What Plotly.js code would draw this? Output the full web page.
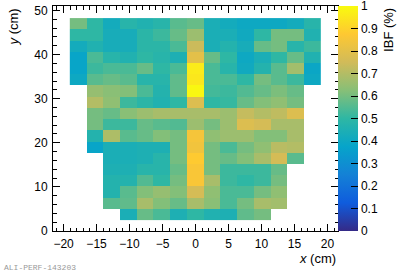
<!DOCTYPE html>
<html>
<head>
<meta charset="utf-8">
<script src="https://cdn.plot.ly/plotly-3.0.1.min.js"></script>
<style>html,body{margin:0;padding:0;background:#fff;}#chart{width:403px;height:274px;}</style>
</head>
<body>
<div id="chart"></div>
<script>
// Pad centres (cm): columns left to right
var xCenters = [-17.78, -15.24, -12.70, -10.16, -7.62, -5.08, -2.54, 0, 2.54, 5.08, 7.62, 10.16, 12.70, 15.24, 17.78];
// Row centres (cm): top to bottom
var yCenters = [46.99, 44.45, 41.91, 39.37, 36.83, 34.29, 31.75, 29.21, 26.67, 24.13, 21.59, 19.05, 16.51, 13.97, 11.43, 8.89, 6.35, 3.81];
// IBF (%) per pad, rows top to bottom (null = no pad)
var ibfRows = [
  [0.60, 0.50, 0.42, 0.48, 0.46, 0.48, 0.56, 0.58, 0.44, 0.42, 0.40, 0.40, 0.40, 0.42, 0.48],
  [0.50, 0.50, 0.43, 0.43, 0.49, 0.52, 0.58, 0.66, 0.44, 0.44, 0.41, 0.50, 0.60, 0.60, 0.46],
  [0.42, 0.46, 0.43, 0.43, 0.49, 0.49, 0.54, 0.74, 0.44, 0.47, 0.43, 0.58, 0.60, 0.48, 0.52],
  [0.38, 0.54, 0.48, 0.46, 0.50, 0.48, 0.45, 0.80, 0.58, 0.50, 0.40, 0.44, 0.50, 0.58, 0.46],
  [0.38, 0.52, 0.54, 0.54, 0.58, 0.50, 0.54, 0.96, 0.54, 0.48, 0.41, 0.47, 0.56, 0.67, 0.39],
  [0.40, 0.56, 0.58, 0.56, 0.48, 0.48, 0.57, 0.95, 0.54, 0.54, 0.50, 0.60, 0.56, 0.52, 0.40],
  [null, 0.65, 0.63, 0.62, 0.54, 0.47, 0.57, 0.99, 0.53, 0.52, 0.55, 0.58, 0.61, 0.58, null],
  [null, 0.70, 0.64, 0.52, 0.49, 0.46, 0.50, 0.78, 0.50, 0.51, 0.58, 0.62, 0.64, 0.60, null],
  [null, 0.60, 0.58, 0.63, 0.66, 0.68, 0.68, 0.68, 0.68, 0.66, 0.73, 0.70, 0.72, 0.78, null],
  [null, 0.60, 0.52, 0.52, 0.58, 0.56, 0.55, 0.66, 0.60, 0.66, 0.78, 0.76, 0.68, 0.68, null],
  [null, 0.47, 0.69, 0.56, 0.58, 0.62, 0.60, 0.85, 0.64, 0.66, 0.66, 0.62, 0.62, 0.68, null],
  [null, 0.38, 0.44, 0.44, 0.45, 0.45, 0.60, 0.84, 0.60, 0.54, 0.60, 0.64, 0.71, 0.70, null],
  [null, null, 0.44, 0.44, 0.45, 0.48, 0.60, 0.88, 0.60, 0.58, 0.62, 0.68, 0.76, 0.56, null],
  [null, null, 0.45, 0.45, 0.48, 0.48, 0.58, 0.86, 0.60, 0.52, 0.52, 0.52, 0.58, null, null],
  [null, null, 0.47, 0.47, 0.55, 0.50, 0.60, 0.86, 0.68, 0.52, 0.50, 0.52, 0.60, null, null],
  [null, null, 0.47, 0.56, 0.62, 0.65, 0.62, 0.76, 0.64, 0.54, 0.54, 0.60, 0.64, null, null],
  [null, null, 0.56, 0.57, 0.68, 0.62, 0.58, 0.68, 0.63, 0.54, 0.60, 0.68, 0.67, null, null],
  [null, null, null, 0.44, 0.58, 0.54, 0.45, 0.50, 0.46, 0.45, 0.57, 0.60, null, null, null]
];
var cbTickVals = [0, 0.1, 0.2, 0.3, 0.4, 0.5, 0.6, 0.7, 0.8, 0.9, 1];
var cbTickText = ['0', '0.1', '0.2', '0.3', '0.4', '0.5', '0.6', '0.7', '0.8', '0.9', '1'];

// ROOT kBird palette
var bird = [
  [0.000, 'rgb(53,42,135)'],
  [0.125, 'rgb(15,92,221)'],
  [0.250, 'rgb(20,129,214)'],
  [0.375, 'rgb(6,164,202)'],
  [0.500, 'rgb(46,183,164)'],
  [0.625, 'rgb(135,191,119)'],
  [0.750, 'rgb(209,187,89)'],
  [0.875, 'rgb(254,200,50)'],
  [1.000, 'rgb(249,251,14)']
];

var z = ibfRows.slice().reverse();
var y = yCenters.slice().reverse();

var font = 'Liberation Sans, Arial, sans-serif';

var trace = {
  type: 'heatmap',
  x: xCenters,
  y: y,
  z: z,
  zmin: 0,
  zmax: 1,
  colorscale: bird,
  hoverongaps: false,
  colorbar: {
    x: 1, xanchor: 'left', xpad: 0,
    y: 0, yanchor: 'bottom', ypad: 0,
    len: 1, lenmode: 'fraction',
    thickness: 20, thicknessmode: 'pixels',
    outlinewidth: 0,
    tickmode: 'array', tickvals: cbTickVals, ticktext: cbTickText,
    ticks: 'inside', ticklen: 7, tickcolor: '#000', tickwidth: 1,
    ticklabeloverflow: 'allow',
    tickfont: {family: font, size: 12, color: '#000'}
  }
};

var layout = {
  width: 403, height: 274,
  margin: {l: 53, r: 65, t: 6, b: 43, pad: 0},
  paper_bgcolor: '#fff', plot_bgcolor: '#fff',
  font: {family: font, size: 12, color: '#000'},
  xaxis: {
    range: [-21.6, 21.6],
    tickmode: 'linear', tick0: 0, dtick: 5,
    ticks: 'inside', ticklen: 7, tickcolor: '#000',
    minor: {dtick: 1, ticks: 'inside', ticklen: 3.5, tickcolor: '#000'},
    showline: true, linecolor: '#000', linewidth: 1, mirror: 'allticks',
    showgrid: false, zeroline: false,
    tickfont: {family: font, size: 12},
    ticklabelstandoff: 2
  },
  yaxis: {
    range: [0, 51],
    tickmode: 'linear', tick0: 0, dtick: 10,
    ticks: 'inside', ticklen: 7, tickcolor: '#000',
    minor: {dtick: 2, ticks: 'inside', ticklen: 3.5, tickcolor: '#000'},
    showline: true, linecolor: '#000', linewidth: 1, mirror: 'allticks',
    showgrid: false, zeroline: false,
    tickfont: {family: font, size: 12},
    ticklabelstandoff: 2
  },
  annotations: [
    {text: 'IBF (%)', xref: 'paper', yref: 'paper', x: 1.175, y: 1.0, xanchor: 'center', yanchor: 'top',
     textangle: -90, showarrow: false, font: {family: font, size: 13}},
    {text: '<i>y</i> (cm)', xref: 'paper', yref: 'paper', x: -0.137, y: 1.0, xanchor: 'center', yanchor: 'top',
     textangle: -90, showarrow: false, font: {family: font, size: 13}},
    {text: '<i>x</i> (cm)', xref: 'paper', yref: 'paper', x: 1.0, y: -0.12, xanchor: 'right', yanchor: 'middle',
     showarrow: false, font: {family: font, size: 13}},
    {text: 'ALI-PERF-143203', xref: 'paper', yref: 'paper', x: -0.18, y: -0.16, xanchor: 'left', yanchor: 'middle',
     showarrow: false, font: {family: 'Liberation Mono, DejaVu Sans Mono, monospace', size: 8, color: '#999'}}
  ]
};

Plotly.newPlot('chart', [trace], layout, {displayModeBar: false, staticPlot: true});
</script>
</body>
</html>
